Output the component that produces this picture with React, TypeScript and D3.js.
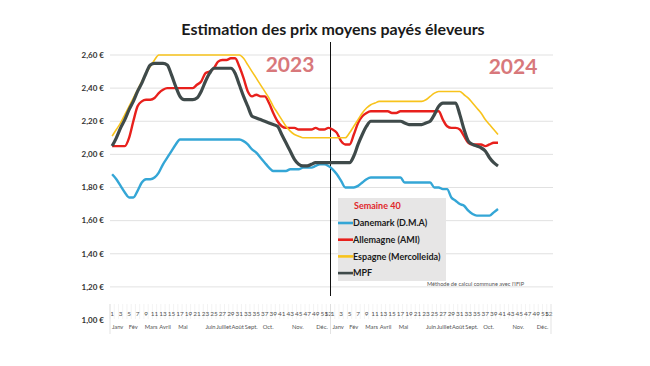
import React from "react";
import * as d3 from "d3";

// semaines : 2023 (52) puis 2024 (52) — données jusqu'à S40 2024
const years = [2023, 2024];
const weekNumbers = d3.range(1, 53);
const monthNames = ["Janv", "Fév", "Mars", "Avril", "Mai", "Juin", "Juillet", "Août", "Sept.", "Oct.", "Nov.", "Déc."];
const monthLabelWeek = [2.3, 6, 10.2, 13.5, 17.7, 24.2, 27.3, 30.6, 33.8, 37.8, 44.8, 50.5];
const yTicks = [1.0, 1.2, 1.4, 1.6, 1.8, 2.0, 2.2, 2.4, 2.6];

const danemark = [
  1.88, 1.85, 1.81, 1.77, 1.74, 1.74, 1.78, 1.83, 1.85, 1.85,
  1.86, 1.89, 1.94, 1.98, 2.02, 2.06, 2.09, 2.09, 2.09, 2.09,
  2.09, 2.09, 2.09, 2.09, 2.09, 2.09, 2.09, 2.09, 2.09, 2.09,
  2.09, 2.08, 2.06, 2.03, 2.01, 1.98, 1.95, 1.92, 1.90, 1.90,
  1.90, 1.90, 1.91, 1.91, 1.91, 1.92, 1.92, 1.92, 1.93, 1.94,
  1.94, 1.93,
  1.91, 1.88, 1.84, 1.80, 1.80, 1.80, 1.81, 1.83, 1.85, 1.86,
  1.86, 1.86, 1.86, 1.86, 1.86, 1.86, 1.86, 1.83, 1.83, 1.83,
  1.83, 1.83, 1.83, 1.83, 1.80, 1.80, 1.79, 1.79, 1.74, 1.72,
  1.70, 1.69, 1.66, 1.64, 1.63, 1.63, 1.63, 1.63, 1.65, 1.67,
];
const allemagne = [
  2.05, 2.05, 2.05, 2.05, 2.10, 2.20, 2.29, 2.32, 2.33, 2.33,
  2.34, 2.37, 2.39, 2.40, 2.40, 2.40, 2.40, 2.40, 2.40, 2.40,
  2.42, 2.44, 2.49, 2.50, 2.52, 2.56, 2.57, 2.57, 2.58, 2.58,
  2.53, 2.46, 2.38, 2.35, 2.36, 2.35, 2.35, 2.31, 2.25, 2.20,
  2.17, 2.16, 2.16, 2.16, 2.15, 2.15, 2.15, 2.15, 2.16, 2.15,
  2.15, 2.16,
  2.15, 2.13, 2.08, 2.06, 2.06, 2.12, 2.19, 2.23, 2.25, 2.26,
  2.26, 2.26, 2.26, 2.26, 2.25, 2.25, 2.26, 2.26, 2.26, 2.26,
  2.26, 2.26, 2.26, 2.26, 2.26, 2.26, 2.21, 2.17, 2.16, 2.16,
  2.15, 2.11, 2.07, 2.06, 2.06, 2.06, 2.05, 2.06, 2.07, 2.07,
];
const espagne = [
  2.11, 2.15, 2.19, 2.24, 2.29, 2.34, 2.39, 2.44, 2.49, 2.53,
  2.57, 2.60, 2.60, 2.60, 2.60, 2.60, 2.60, 2.60, 2.60, 2.60,
  2.60, 2.60, 2.60, 2.60, 2.60, 2.60, 2.60, 2.60, 2.60, 2.60,
  2.60, 2.58, 2.54, 2.50, 2.46, 2.42, 2.38, 2.34, 2.29, 2.25,
  2.21, 2.17, 2.14, 2.12, 2.11, 2.10, 2.10, 2.10, 2.10, 2.10,
  2.10, 2.10,
  2.10, 2.10, 2.10, 2.10, 2.13, 2.17, 2.21, 2.25, 2.28, 2.30,
  2.31, 2.32, 2.32, 2.32, 2.32, 2.32, 2.32, 2.32, 2.32, 2.32,
  2.32, 2.32, 2.33, 2.35, 2.37, 2.38, 2.38, 2.38, 2.38, 2.38,
  2.38, 2.36, 2.34, 2.31, 2.28, 2.25, 2.21, 2.18, 2.15, 2.12,
];
const mpf = [
  2.05, 2.10, 2.16, 2.21, 2.27, 2.32, 2.38, 2.43, 2.49, 2.54,
  2.55, 2.55, 2.55, 2.54, 2.48, 2.41, 2.35, 2.33, 2.33, 2.33,
  2.34, 2.38, 2.44, 2.49, 2.52, 2.52, 2.52, 2.52, 2.52, 2.49,
  2.42, 2.35, 2.29, 2.23, 2.22, 2.21, 2.20, 2.19, 2.18, 2.17,
  2.12, 2.07, 2.02, 1.97, 1.94, 1.93, 1.93, 1.94, 1.95, 1.95,
  1.95, 1.95,
  1.95, 1.95, 1.95, 1.95, 1.95, 1.99, 2.06, 2.12, 2.17, 2.20,
  2.20, 2.20, 2.20, 2.20, 2.20, 2.20, 2.20, 2.19, 2.18, 2.18,
  2.18, 2.18, 2.19, 2.20, 2.24, 2.29, 2.31, 2.31, 2.31, 2.31,
  2.24, 2.15, 2.08, 2.06, 2.05, 2.04, 2.02, 1.98, 1.95, 1.93,
];

const series = [
  { name: "Danemark (D.M.A)", values: danemark, color: "#34a6d6", width: 2.4 },
  { name: "Allemagne (AMI)", values: allemagne, color: "#e8201c", width: 2.4 },
  { name: "Espagne (Mercolleida)", values: espagne, color: "#f8c31c", width: 1.6 },
  { name: "MPF", values: mpf, color: "#3f4a4a", width: 3.2 },
];

const font = "Lato, 'Open Sans', sans-serif";

export default function App() {
  const categories = years.flatMap((yr) => weekNumbers.map((w) => ({ yr, w })));
  const x = d3.scaleBand<number>().domain(d3.range(categories.length)).range([110, 551]);
  const cx = (i: number) => (x(i) ?? 0) + x.bandwidth() / 2;
  // même échelle, en continu, pour placer les libellés de mois
  const xc = d3.scaleLinear().domain([0, categories.length]).range(x.range());
  const y = d3.scaleLinear().domain([1, 2.6]).range([320, 55]);

  const line = d3
    .line<number>()
    .x((_, i) => cx(i))
    .y((d) => y(d))
    .curve(d3.curveMonotoneX);

  const fmt = (v: number) => v.toFixed(2).replace(".", ",") + " €";
  const yearStart = xc(52);

  return (
    <svg
      width={650}
      height={366}
      style={{ position: "absolute", left: 0, top: 0, background: "#fff" }}
      fontFamily={font}
    >
      <text x={333} y={35} textAnchor="middle" fontSize={16} fontWeight={700} fill="#1a1a1a">
        Estimation des prix moyens payés éleveurs
      </text>

      {/* grille */}
      {yTicks.filter((t) => t > 1).map((t) => (
        <line key={t} x1={110} x2={553} y1={y(t)} y2={y(t)} stroke="#d9d9d9" strokeWidth={0.8} />
      ))}
      {yTicks.map((t) => (
        <text key={t} x={104} y={y(t)} dy="0.35em" textAnchor="end" fontSize={8} fontWeight={700} fill="#333">
          {fmt(t)}
        </text>
      ))}

      {/* axe des catégories : semaines */}
      {categories.map((c, i) => (
        <line key={"t" + i} x1={xc(i)} x2={xc(i)} y1={304} y2={319} stroke="#ebebeb" strokeWidth={0.6} />
      ))}
      {categories.map((c, i) =>
        c.w % 2 === 1 || c.w === 52 ? (
          <text key={"w" + i} x={cx(i)} y={314} dy="0.35em" textAnchor="middle" fontSize={6.4} fill="#555">
            {c.w}
          </text>
        ) : null
      )}
      {/* mois */}
      {years.map((yr, k) =>
        monthNames.map((m, j) => (
          <text
            key={yr + m}
            x={xc(k * 52 + monthLabelWeek[j] - 0.5)}
            y={327}
            dy="0.35em"
            textAnchor="middle"
            fontSize={5.8}
            fill="#555"
          >
            {m}
          </text>
        ))
      )}
      {[0, 52, 104].map((i) => (
        <line key={"y" + i} x1={xc(i)} x2={xc(i)} y1={304} y2={334} stroke="#d0d0d0" strokeWidth={0.6} />
      ))}

      {/* séparation des années */}
      <line x1={yearStart} x2={yearStart} y1={42} y2={296} stroke="#111" strokeWidth={1} />
      <text x={290} y={65} dy="0.35em" textAnchor="middle" fontSize={21} fontWeight={700} fill="#d8787b">
        2023
      </text>
      <text x={513} y={67} dy="0.35em" textAnchor="middle" fontSize={21} fontWeight={700} fill="#d8787b">
        2024
      </text>

      {/* légende */}
      <rect x={338} y={198} width={108} height={83} fill="#e7e6e6" />
      <text x={354} y={206} dy="0.35em" fontSize={9} fontWeight={700} fill="#e0262b">
        Semaine 40
      </text>
      {series.map((s, k) => (
        <g key={s.name} transform={`translate(338,${223 + k * 16.7})`}>
          <line x1={0} x2={15} y1={0} y2={0} stroke={s.color} strokeWidth={2.6} />
          <text x={15} y={0} dy="0.35em" fontSize={9} fontWeight={700} fill="#1a1a1a">
            {s.name}
          </text>
        </g>
      ))}

      {series.map((s) => (
        <path key={s.name} d={line(s.values) ?? ""} fill="none" stroke={s.color} strokeWidth={s.width} strokeLinejoin="round" />
      ))}

      <text x={427} y={284} dy="0.35em" fontSize={5.6} fill="#555">
        Méthode de calcul commune avec l'IFIP
      </text>
    </svg>
  );
}
